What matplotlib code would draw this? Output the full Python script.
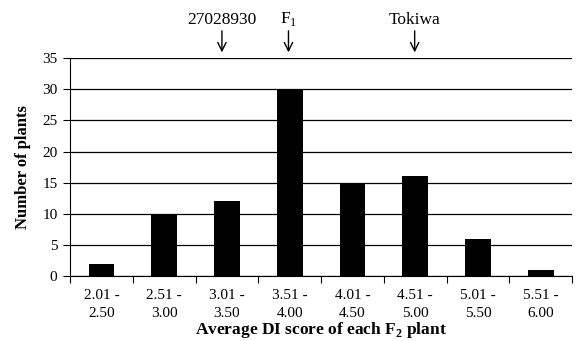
import matplotlib
matplotlib.use("Agg")
import matplotlib.pyplot as plt
import numpy as np

categories = ["2.01 -\n2.50", "2.51 -\n3.00", "3.01 -\n3.50", "3.51 -\n4.00",
              "4.01 -\n4.50", "4.51 -\n5.00", "5.01 -\n5.50", "5.51 -\n6.00"]
counts = [2, 10, 12, 30, 15, 16, 6, 1]
markers = ["27028930", "F$_1$", "Tokiwa"]
marker_pos = [1.92, 2.98, 4.99]

plt.rcParams["font.family"] = ["Liberation Serif", "DejaVu Serif"]
plt.rcParams["mathtext.fontset"] = "custom"
plt.rcParams["mathtext.rm"] = "Liberation Serif"
plt.rcParams["mathtext.bf"] = "Liberation Serif:bold"

fig = plt.figure(figsize=(5.76, 3.41), dpi=100)
ax = fig.add_axes([0.1215, 0.19, 0.872, 0.64])

x = np.arange(len(categories))
ax.bar(x, counts, width=0.41, color="black", zorder=3)

ax.set_xlim(-0.5, len(categories) - 0.5)
ax.set_ylim(0, 35)
ax.set_yticks(range(0, 36, 5))
ax.yaxis.grid(True, color="black", linewidth=0.9, zorder=0)
ax.set_xticks(x)
ax.set_xticklabels(categories, fontsize=11, linespacing=1.55)
ax.set_xticks(np.arange(-0.5, len(categories), 1), minor=True)
ax.tick_params(axis="x", which="major", length=0, pad=9)
ax.tick_params(axis="x", which="minor", length=5, direction="out", width=0.8)
ax.tick_params(axis="y", labelsize=11, length=5, width=0.8, pad=4)

for s in ["top", "right"]:
    ax.spines[s].set_visible(False)
ax.spines["left"].set_linewidth(0.8)
ax.spines["bottom"].set_linewidth(0.8)

ax.set_ylabel("Number of plants", fontsize=12, fontweight="bold", labelpad=8)
ax.set_xlabel("Average DI score of each F$_\\mathbf{2}$ plant", fontsize=12.5,
              fontweight="bold", labelpad=0)

for name, p in zip(markers, marker_pos):
    ax.annotate(name, xy=(p, 35.9), xytext=(p, 39.8), xycoords="data",
                textcoords="data", ha="center", va="bottom", fontsize=12.5,
                annotation_clip=False,
                arrowprops=dict(arrowstyle="->", color="black", lw=1,
                                shrinkA=0, shrinkB=0, mutation_scale=15))

fig.savefig("out.png", dpi=100)
